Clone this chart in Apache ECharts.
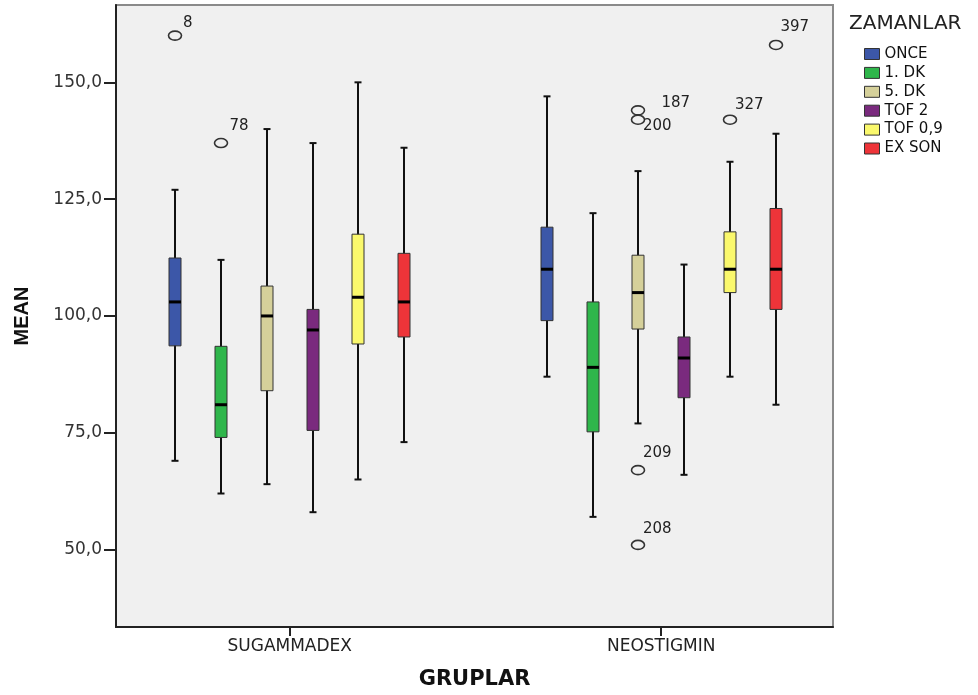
<!DOCTYPE html>
<html><head><meta charset="utf-8">
<script src="https://cdn.jsdelivr.net/npm/echarts@6/dist/echarts.min.js"></script>
<style>html,body{margin:0;padding:0;background:#fff}#c{width:978px;height:695px}</style>
</head><body><div id="c"></div>
<script>
// ---- data ----
const groups = ['SUGAMMADEX', 'NEOSTIGMIN'];
const seriesNames = ['ONCE', '1. DK', '5. DK', 'TOF 2', 'TOF 0,9', 'EX SON'];
// [min, Q1, median, Q3, max] for SUGAMMADEX, NEOSTIGMIN
const once  = [[69, 93.6, 103, 112.4, 127], [87, 99, 110, 119, 147]];
const dk1   = [[62, 74, 81, 93.5, 112], [57, 75.2, 89, 103, 122]];
const dk5   = [[64, 84, 100, 106.4, 140], [77, 97.2, 105, 113, 131]];
const tof2  = [[58, 75.5, 97, 101.4, 137], [66, 82.5, 91, 95.5, 111]];
const tof09 = [[65, 94, 104, 117.5, 150], [87, 105, 110, 118, 133]];
const exSon = [[73, 95.5, 103, 113.4, 136], [81, 101.4, 110, 123, 139]];
const yTicks = [50, 75, 100, 125, 150];
// outliers
const outlierGroup  = [0, 0, 1, 1, 1, 1, 1, 1];
const outlierSeries = [0, 1, 2, 2, 2, 2, 4, 5];
const outlierValue  = [160, 137, 144, 142, 67, 51, 142, 158];
const outlierLabel  = ['8', '78', '187', '200', '209', '208', '327', '397'];

// ---- styling ----
const colors = ['#3C57A8', '#2FB64B', '#D5D09A', '#7A2A7E', '#FAF86C', '#EE3439'];
const labelDx = [8, 8.5, 23.5, 5, 5, 5, 5, 4.5];
const labelDy = [-12, -16.5, -7.5, 6.5, -17.5, -16, -15, -17.5];
const BOX_STEP = 0.1233;   // distance between adjacent boxes in x units
const FONT = 'DejaVu Sans';

const boxData = [once, dk1, dk5, tof2, tof09, exSon];
function xOf(g, s) { return g + (s - 2.5) * BOX_STEP; }

function boxRender(params, api) {
  const s = params.seriesIndex;
  const g = api.value(0);
  const x = xOf(g, s);
  const p = [1, 2, 3, 4, 5].map(i => api.coord([x, api.value(i)]));
  const cx = Math.round(p[0][0]);
  const hw = 6, cap = 3.5;
  const col = api.visual('color');
  const ln = (x1, y1, x2, y2, w, c) => ({type: 'line', shape: {x1, y1, x2, y2}, style: {stroke: c || '#111', lineWidth: w}});
  return {type: 'group', children: [
    ln(cx, p[0][1], cx, p[4][1], 2),
    ln(cx - cap, p[0][1], cx + cap, p[0][1], 2),
    ln(cx - cap, p[4][1], cx + cap, p[4][1], 2),
    {type: 'rect', shape: {x: cx - hw, y: p[3][1], width: 2 * hw, height: p[1][1] - p[3][1]},
     style: {fill: col, stroke: '#333', lineWidth: 1}},
    ln(cx - hw, p[2][1], cx + hw, p[2][1], 3, '#000')
  ]};
}

function outlierRender(params, api) {
  const g = api.value(0), s = api.value(1), v = api.value(2), k = api.value(3);
  const c = api.coord([xOf(g, s), v]);
  const cx = Math.round(c[0]);
  return {type: 'group', children: [
    {type: 'ellipse', shape: {cx: cx, cy: c[1], rx: 6.5, ry: 4.5},
     style: {fill: 'none', stroke: '#333', lineWidth: 1.6}},
    {type: 'text', x: cx + labelDx[k], y: c[1] + labelDy[k],
     style: {text: outlierLabel[k], fill: '#222', fontSize: 15, fontFamily: FONT,
             align: 'left', verticalAlign: 'middle'}}
  ]};
}

const series = seriesNames.map((name, i) => ({
  type: 'custom', name: name, renderItem: boxRender,
  itemStyle: {color: colors[i]},
  encode: {x: 0, y: [1, 2, 3, 4, 5]},
  data: boxData[i].map((d, g) => [g].concat(d)),
  z: 3
}));
series.push({
  type: 'custom', name: 'outliers', renderItem: outlierRender, silent: true,
  encode: {x: 0, y: 2},
  data: outlierValue.map((v, k) => [outlierGroup[k], outlierSeries[k], v, k]),
  z: 4
});

const chart = echarts.init(document.getElementById('c'), null, {renderer: 'canvas'});
chart.setOption({
  animation: false,
  backgroundColor: '#fff',
  title: {text: 'ZAMANLAR', left: 849, top: 14, padding: 0,
    textStyle: {fontFamily: FONT, fontSize: 20, fontWeight: 'normal', color: '#222'}},
  legend: {
    orient: 'vertical', left: 864, top: 46.5, icon: 'rect', padding: 0,
    itemWidth: 15, itemHeight: 11, itemGap: 3.9,
    data: seriesNames.map(n => ({name: n, itemStyle: {borderColor: '#333', borderWidth: 1}})),
    textStyle: {fontFamily: FONT, fontSize: 15, lineHeight: 14, color: '#111'},
    selectedMode: false
  },
  grid: {left: 116, right: 145, top: 5, bottom: 68, show: true,
    backgroundColor: '#F0F0F0', borderColor: '#8a8a8a', borderWidth: 2,
    containLabel: false, outerBoundsMode: 'none'},
  xAxis: {
    type: 'value', min: -0.4676, max: 1.4624,
    name: 'GRUPLAR', nameLocation: 'middle', nameGap: 42, nameMoveOverlap: false,
    nameTextStyle: {fontFamily: FONT, fontWeight: 'bold', fontSize: 21, color: '#111'},
    axisLine: {show: true, onZero: false, lineStyle: {color: '#222', width: 2}},
    axisTick: {show: true, customValues: [0, 1], length: 9, lineStyle: {color: '#222', width: 2}},
    axisLabel: {customValues: [0, 1], formatter: v => groups[Math.round(v)], margin: 11,
      fontFamily: FONT, fontSize: 17, color: '#222'},
    splitLine: {show: false}
  },
  yAxis: {
    type: 'value', min: 33.43, max: 166.55,
    name: 'MEAN', nameLocation: 'middle', nameGap: 84, nameRotate: 90, nameMoveOverlap: false,
    nameTextStyle: {fontFamily: 'Liberation Sans', fontWeight: 'bold', fontSize: 20, color: '#111'},
    axisLine: {show: true, onZero: false, lineStyle: {color: '#222', width: 2}},
    axisTick: {show: true, customValues: yTicks, length: 12, lineStyle: {color: '#222', width: 2}},
    axisLabel: {customValues: yTicks, formatter: v => v.toFixed(1).replace('.', ','), margin: 14,
      fontFamily: FONT, fontSize: 17, color: '#333'},
    splitLine: {show: false}
  },
  series: series
});
</script></body></html>
